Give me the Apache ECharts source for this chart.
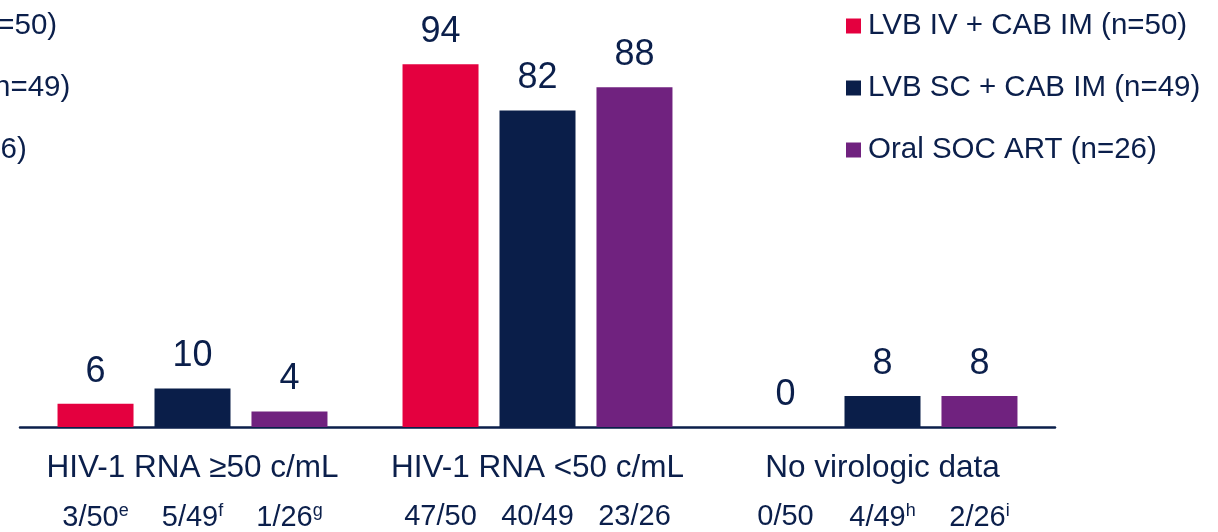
<!DOCTYPE html>
<html>
<head>
<meta charset="utf-8">
<style>
  html, body { margin: 0; padding: 0; background: #ffffff; }
  #chart { width: 1218px; height: 532px; }
</style>
<script src="https://cdn.jsdelivr.net/npm/echarts@6/dist/echarts.min.js"></script>
</head>
<body>
<div id="chart"></div>
<script>
// Virologic outcome categories
const categories = ['HIV-1 RNA ≥50 c/mL', 'HIV-1 RNA <50 c/mL', 'No virologic data'];

// Treatment arms
const armNames = ['LVB IV + CAB IM (n=50)', 'LVB SC + CAB IM (n=49)', 'Oral SOC ART (n=26)'];
const armColors = ['#E4003F', '#0A1E49', '#70227F'];

// Percentage of participants in each category, per arm
const ivValues = [6, 94, 0];
const scValues = [10, 82, 8];
const socValues = [4, 88, 8];

// Participant counts shown under each bar; superscript footnote letters alongside
const ivCounts = ['3/50', '47/50', '0/50'];
const ivNotes = ['e', '', ''];
const scCounts = ['5/49', '40/49', '4/49'];
const scNotes = ['f', '', 'h'];
const socCounts = ['1/26', '23/26', '2/26'];
const socNotes = ['g', '', 'i'];

const textColor = '#0B1F4B';
const font = 'Liberation Sans, Arial, Helvetica, sans-serif';

const chart = echarts.init(document.getElementById('chart'), null, { renderer: 'canvas' });

// Count labels hang below the axis from a zero-height base bar in each stack
function countSeries(stackId, counts, notes) {
  return {
    name: stackId + '-counts',
    type: 'bar',
    stack: stackId,
    barWidth: 76,
    data: counts.map(() => 0),
    itemStyle: { color: 'transparent' },
    silent: true,
    label: {
      show: true,
      position: 'bottom',
      distance: 75,
      formatter: p => '{n|' + counts[p.dataIndex] + '}' + (notes[p.dataIndex] ? '{s|' + notes[p.dataIndex] + '}' : ''),
      rich: {
        n: { fontSize: 29, color: textColor, fontFamily: font },
        s: { fontSize: 18, color: textColor, fontFamily: font, verticalAlign: 'top', padding: [0, 0, 13, 0] }
      }
    }
  };
}

function valueSeries(stackId, name, color, values) {
  return {
    name: name,
    type: 'bar',
    stack: stackId,
    barWidth: 76,
    barGap: '27.6%',
    data: values,
    itemStyle: { color: color },
    label: {
      show: true,
      position: 'top',
      distance: 14,
      fontSize: 36,
      color: textColor,
      fontFamily: font
    }
  };
}

function legendAt(left) {
  return {
    left: left,
    top: 6,
    orient: 'vertical',
    itemWidth: 15,
    itemHeight: 15,
    itemGap: 32,
    icon: 'rect',
    selectedMode: false,
    data: armNames,
    textStyle: { fontSize: 29.5, color: textColor, fontFamily: font, padding: [0, 0, 0, 2] }
  };
}

chart.setOption({
  animation: false,
  color: armColors,
  legend: [legendAt(-289), legendAt(841)],
  grid: { left: 20, right: 163, top: 41, bottom: 105, containLabel: false },
  xAxis: {
    type: 'category',
    data: categories,
    axisLine: { show: true, lineStyle: { color: textColor, width: 2.5 } },
    axisTick: { show: false },
    axisLabel: { fontSize: 31.5, color: textColor, fontFamily: font, margin: 25, interval: 0 }
  },
  yAxis: {
    type: 'value',
    min: 0,
    max: 100,
    show: false,
    splitLine: { show: false }
  },
  series: [
    countSeries('iv', ivCounts, ivNotes),
    valueSeries('iv', armNames[0], armColors[0], ivValues),
    countSeries('sc', scCounts, scNotes),
    valueSeries('sc', armNames[1], armColors[1], scValues),
    countSeries('soc', socCounts, socNotes),
    valueSeries('soc', armNames[2], armColors[2], socValues)
  ]
});
</script>
</body>
</html>
